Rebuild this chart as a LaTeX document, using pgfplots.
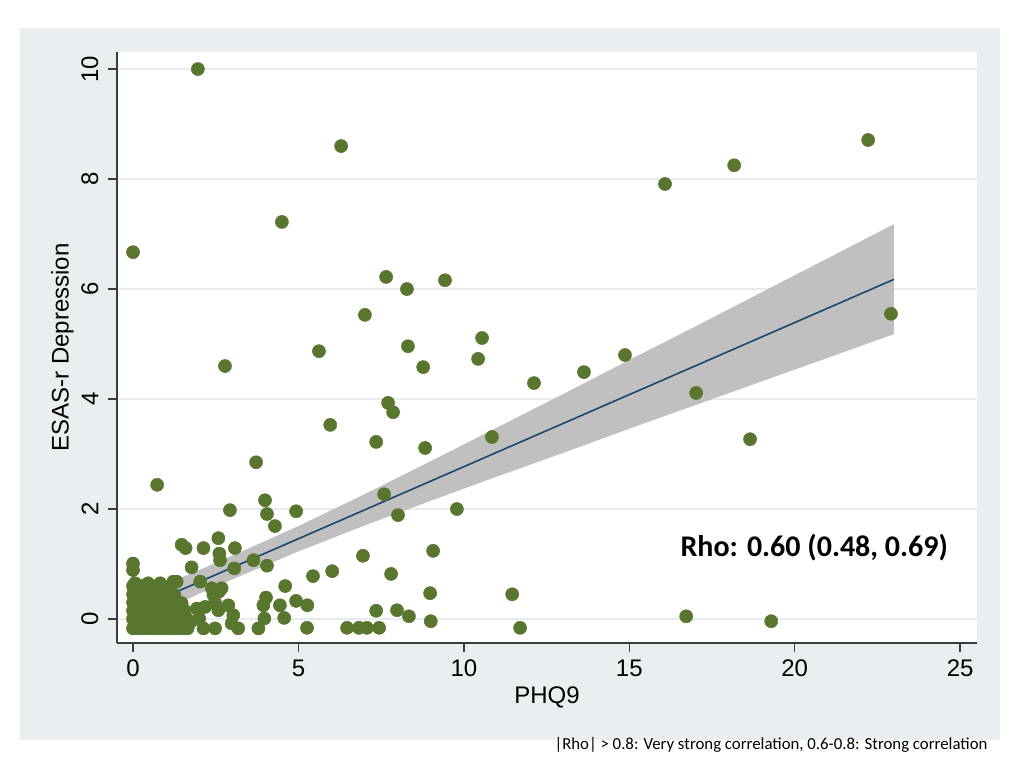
\documentclass[border=0pt]{standalone}
\usepackage{fontspec}
\setmainfont{Liberation Sans}
\newfontfamily\calib{Carlito}
\usepackage{pgfplots}
\pgfplotsset{compat=1.18}
\definecolor{bgpanel}{RGB}{233,238,241}
\definecolor{mk}{RGB}{88,118,46}
\definecolor{navy}{RGB}{26,71,111}
\definecolor{band}{RGB}{192,192,192}
\definecolor{gridc}{RGB}{232,236,238}
\definecolor{axc}{RGB}{60,60,60}

\pgfplotstableread{
x y
1.96 10.0
6.29 8.6
4.5 7.22
0 6.67
7.65 6.22
8.28 6.0
9.43 6.16
7.01 5.53
10.55 5.11
5.62 4.87
8.31 4.96
10.43 4.73
2.78 4.6
8.77 4.58
12.12 4.29
13.63 4.49
14.87 4.8
16.08 7.91
18.17 8.25
22.22 8.71
22.91 5.55
17.02 4.11
18.65 3.27
7.71 3.93
7.86 3.76
5.96 3.53
7.35 3.22
10.85 3.31
8.83 3.11
3.72 2.85
0.73 2.44
3.99 2.16
2.93 1.98
4.05 1.91
4.93 1.96
7.59 2.27
8.01 1.89
9.79 2.0
4.29 1.69
9.07 1.24
6.95 1.15
7.8 0.82
6.02 0.87
5.44 0.78
8.98 0.47
11.46 0.45
16.72 0.05
19.29 -0.04
11.7 -0.16
9.0 -0.04
8.34 0.05
7.35 0.15
7.98 0.16
6.47 -0.16
6.83 -0.16
7.07 -0.16
7.44 -0.16
5.26 -0.16
0 -0.17
0.15 -0.17
0.3 -0.17
0.45 -0.17
0.6 -0.17
0.75 -0.17
0.9 -0.17
1.05 -0.17
1.2 -0.17
1.35 -0.17
1.5 -0.17
1.65 -0.17
2.13 -0.17
2.48 -0.17
3.18 -0.17
3.79 -0.17
0 0
0.1 0.02
0.25 -0.02
0.4 0.0
0.75 0.0
0.9 0.02
1.05 -0.03
1.2 0.0
1.4 0.02
1.6 0.03
1.75 -0.05
2.0 0.01
2.98 -0.08
3.97 0.01
4.57 0.02
0 0.15
0.15 0.12
0.3 0.18
0.7 0.15
0.85 0.12
1.0 0.18
1.15 0.15
1.35 0.12
1.55 0.16
1.93 0.19
2.18 0.22
2.58 0.16
2.88 0.25
3.03 0.07
0 0.3
0.12 0.28
0.22 0.22
0.3 0.32
0.45 0.3
0.6 0.33
0.62 0.2
0.8 0.28
1.0 0.3
1.15 0.35
1.3 0.25
1.47 0.29
2.48 0.3
0 0.45
0.2 0.47
0.35 0.42
0.55 0.45
0.7 0.48
0.9 0.43
1.05 0.5
1.25 0.44
2.43 0.44
2.6 0.5
0 0.6
0.25 0.6
0.46 0.65
0.6 0.58
0.82 0.65
0.95 0.58
0.06 0.65
0.35 0.58
2.38 0.56
2.68 0.56
0 0.89
0 1.01
1.77 0.94
1.22 0.68
1.32 0.68
2.03 0.68
1.47 1.35
1.59 1.29
2.13 1.29
2.58 1.47
2.61 1.19
2.63 1.07
3.08 1.29
3.06 0.92
3.64 1.07
4.05 0.97
4.6 0.6
4.02 0.39
3.94 0.25
4.44 0.25
4.93 0.33
5.27 0.25
}\pts

\begin{document}
\begin{tikzpicture}
\path[fill=white] (-87.75pt,-93.75pt) rectangle (680.25pt,482.25pt);
\fill[bgpanel] (-72.75pt,-72.75pt) rectangle (662.25pt,461.25pt);
\begin{axis}[
  at={(0pt,0pt)}, anchor=south west,
  scale only axis, width=645pt, height=443.25pt,
  xmin=-0.484, xmax=25.51, ymin=-0.436, ymax=10.31,
  axis background/.style={fill=white},
  axis x line*=bottom, axis y line*=left,
  x axis line style={-, draw=axc, line width=1pt},
  y axis line style={-, draw=axc, line width=1pt},
  xtick={0,5,...,25}, ytick={0,2,...,10},
  tick align=outside, major tick length=7pt,
  tick style={draw=axc, line width=1pt},
  ymajorgrids, grid style={draw=gridc, line width=1pt},
  /pgf/number format/assume math mode=true,
  tick label style={font=\fontsize{18}{20}\selectfont},
  xticklabel style={yshift=-2pt},
  yticklabel style={rotate=90, anchor=south, yshift=3.5pt},
  xlabel={PHQ9}, ylabel={ESAS-r Depression},
  label style={font=\fontsize{18}{20}\selectfont},
  xlabel style={at={(axis description cs:0.5,0)}, anchor=center, yshift=-40.5pt},
  ylabel style={at={(axis description cs:0,0.5)}, anchor=center, yshift=41pt},
  clip=false,
]
\addplot[fill=band, draw=none] coordinates {
 (0,0.41) (1,0.64) (2,0.89) (3,1.15) (5,1.69) (7,2.27) (9,2.87) (11,3.48) (13,4.09) (15,4.71) (17,5.32) (19,5.94) (21,6.56) (23,7.18)
 (23,5.18) (21,4.75) (19,4.32) (17,3.89) (15,3.46) (13,3.02) (11,2.59) (9,2.15) (7,1.70) (5,1.23) (3,0.72) (2,0.46) (1,0.18) (0,-0.11)
} -- cycle;
\addplot[navy, line width=1.2pt] coordinates {(0,0.15) (23,6.176)};
\addplot[only marks, mark=*, mark size=4.9pt, mark options={fill=mk, draw=mk}] table {\pts};
\node[font=\calib\bfseries\fontsize{22.5}{24}\selectfont] at (axis cs:20.59,1.29) {Rho: 0.60 (0.48, 0.69)};
\end{axis}
\node[font=\calib\fontsize{12.6}{14}\selectfont] at (490.5pt,-76.5pt) {|Rho| > 0.8: Very strong correlation, 0.6-0.8: Strong correlation};
\end{tikzpicture}
\end{document}
